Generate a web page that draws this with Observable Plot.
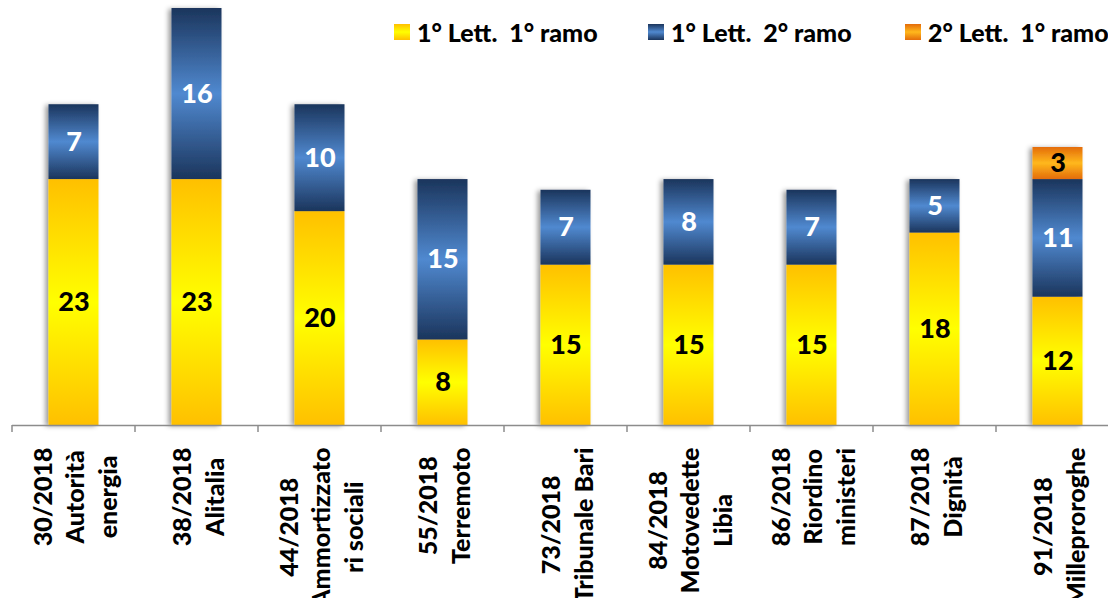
<!DOCTYPE html>
<html><head><meta charset="utf-8">
<script src="https://cdn.jsdelivr.net/npm/d3@7"></script>
<script src="https://cdn.jsdelivr.net/npm/@observablehq/plot@0.6"></script>
<style>
body{margin:0;background:#fff;font-family:Lato,"Liberation Sans",sans-serif;}
#wrap{position:relative;width:1108px;height:598px;overflow:hidden;}
.item{position:absolute;top:17px;height:30px;display:flex;align-items:center;font-weight:900;font-size:25px;white-space:pre;color:#000;}
.sw{width:16px;height:16px;margin-right:7px;flex:none;}
</style></head><body><div id="wrap"></div>
<script>
// ---- data ----
const codes = ["30/2018","38/2018","44/2018","55/2018","73/2018","84/2018","86/2018","87/2018","91/2018"];
const names = ["Autorità\nenergia","Alitalia","Ammortizzato\nri sociali","Terremoto","Tribunale Bari","Motovedette\nLibia","Riordino\nministeri","Dignità","Milleproroghe"];
const series = ["1° Lett.  1° ramo","1° Lett.  2° ramo","2° Lett.  1° ramo"];
const ramo1 = [23,23,20,8,15,15,15,18,12];
const ramo2 = [7,16,10,15,7,8,7,5,11];
const lett2 = [0,0,0,0,0,0,0,0,3];
// ---- styles ----
const gradStops = [["#FFC000","#FFFF00","#FFC000"],["#1B355C","#5089D0","#1B355C"],["#E46C0A","#FFB81C","#E46C0A"]];

const rows = [];
codes.forEach((c,i)=>{[ramo1,ramo2,lett2].forEach((arr,s)=>{ if(arr[i]>0) rows.push({code:c, series:series[s], value:arr[i]}); });});

const ns = "http://www.w3.org/2000/svg";
function el(tag, attrs){const e=document.createElementNS(ns,tag);for(const k in attrs)e.setAttribute(k,attrs[k]);return e;}

const defsMark = () => {
  const g = el("g",{});
  const defs = el("defs",{});
  gradStops.forEach((st,i)=>{
    const lg = el("linearGradient",{id:"grad"+i,x1:"0",y1:"0",x2:"0",y2:"1"});
    [0,0.5,1].forEach((o,j)=>lg.appendChild(el("stop",{offset:o,"stop-color":st[j]})));
    defs.appendChild(lg);
  });
  const f = el("filter",{id:"shadow",x:"-30%",y:"-5%",width:"160%",height:"110%"});
  f.appendChild(el("feDropShadow",{dx:"-3",dy:"1",stdDeviation:"2.5","flood-color":"#000","flood-opacity":"0.4"}));
  defs.appendChild(f);
  g.appendChild(defs);
  return g;
};

const xRange = [12, 1119];
const step = (xRange[1]-xRange[0])/codes.length;

const tickMark = (index, scales) => {
  const g = el("g",{stroke:"#8c8c8c","stroke-width":"1.5"});
  const y0 = scales.y(0);
  codes.forEach(c=>{const x=scales.x(c); g.appendChild(el("line",{x1:x,x2:x,y1:y0,y2:y0+7}));});
  return g;
};

const labelOpts = {x:"code", y:"value", z:"series", fontSize:27, fontWeight:900};
const chart = Plot.plot({
  width:1108, height:598,
  marginTop:8, marginBottom:173, marginLeft:12, marginRight:0,
  x:{domain:codes, range:xRange, padding:0, axis:null},
  y:{domain:[0,39], axis:null},
  color:{domain:series, range:series.map((_,i)=>`url(#grad${i})`)},
  style:{fontFamily:"Lato, 'Liberation Sans', sans-serif", overflow:"visible", background:"#fff"},
  marks:[
    defsMark,
    Plot.barY(rows, Plot.stackY({x:"code", y:"value", z:"series", fill:"series", insetLeft:(step-50)/2, insetRight:(step-50)/2})),
    Plot.ruleY([0], {stroke:"#8c8c8c", strokeWidth:1.5}),
    tickMark,
    Plot.text(rows, Plot.stackY({...labelOpts, text:d=>d.series===series[1]?null:d.value, fill:"black"})),
    Plot.text(rows, Plot.stackY({...labelOpts, text:d=>d.series===series[1]?d.value:null, fill:"white"})),
    Plot.text(codes, {x:d=>d, text:(d,i)=>d+"\n"+names[i], frameAnchor:"bottom", rotate:-90, textAnchor:"middle", lineAnchor:"middle", lineHeight:1.3, fontSize:25, fontWeight:900, fill:"black"})
  ]
});

const wrap = document.getElementById("wrap");
wrap.appendChild(chart);

// shadow on bars
chart.querySelectorAll('g[aria-label="bar"]').forEach(g=>g.setAttribute("filter","url(#shadow)"));

// x labels: center lines, longest line starts just below the axis
const axisY = 425, gap = 22;
chart.querySelectorAll("text").forEach(t=>{
  const tr = t.getAttribute("transform")||"";
  if(!/rotate/.test(tr)) return;
  const m = tr.match(/translate\(([-\d.e]+),\s*([-\d.e]+)\)/);
  if(!m) return;
  const spans = t.querySelectorAll("tspan");
  let max = 0;
  if(spans.length) spans.forEach(s=>{max=Math.max(max,s.getComputedTextLength());});
  else max = t.getComputedTextLength();
  t.setAttribute("transform",`translate(${m[1]},${axisY+gap+max/2}) rotate(-90)`);
});

// legend
const legendX = [394, 648, 905];
series.forEach((s,i)=>{
  const it = document.createElement("div");
  it.className="item"; it.style.left=legendX[i]+"px";
  const sw = document.createElement("div"); sw.className="sw";
  sw.style.background=`linear-gradient(to bottom, ${gradStops[i].join(",")})`;
  const tx = document.createElement("span"); tx.textContent=s;
  it.appendChild(sw); it.appendChild(tx);
  wrap.appendChild(it);
});
</script></body></html>
